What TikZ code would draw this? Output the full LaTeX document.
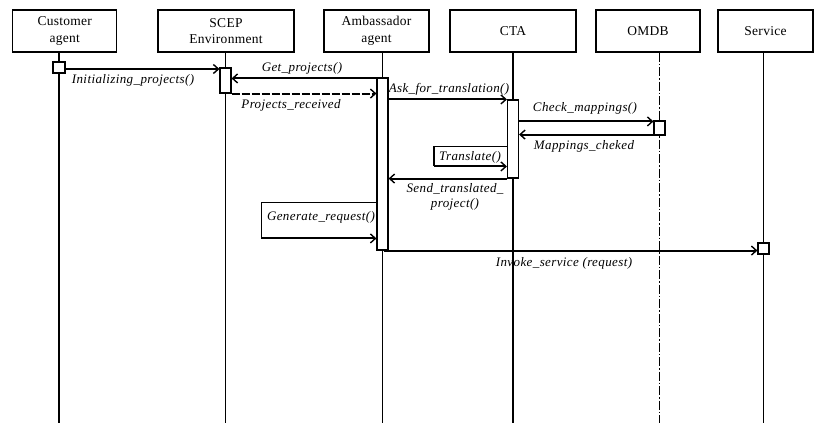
\documentclass[tikz,border=0pt]{standalone}
\usepackage{fontspec}
\setmainfont{Liberation Serif}
\newfontfamily\hdrfont[LetterSpace=2]{Liberation Serif}
\newfontfamily\lblfont[LetterSpace=3]{Liberation Serif}
\usetikzlibrary{arrows.meta,calc}
\begin{document}
\begin{tikzpicture}[x=1pt,y=-1pt,
 hdr/.style={draw,line width=1.1pt,inner sep=0pt,font=\hdrfont\fontsize{13.5}{16.5}\selectfont,align=center},
 life/.style={line width=1.8pt},
 omdbline/.style={line width=0.9pt,dash pattern=on 9pt off 2pt on 1.5pt off 2pt},
 act/.style={draw,fill=white,line width=1.1pt,inner sep=0pt},
 msg/.style={line width=2pt,-{Straight Barb[length=5pt,width=9pt,line width=1.4pt]}},
 ret/.style={msg,dash pattern=on 8pt off 2pt},
 frame/.style={line width=1.1pt},
 lbl/.style={font=\lblfont\itshape\fontsize{13}{15}\selectfont,inner sep=0pt,align=center},
]
\useasboundingbox (0,0) rectangle (814,423);
% headers
\node[hdr,minimum width=104pt,minimum height=42pt] (cust) at (64.7,31) {Customer\\agent};
\node[hdr,minimum width=136pt,minimum height=42pt] (scep) at (226,31) {SCEP\\Environment};
\node[hdr,minimum width=105pt,minimum height=42pt] (amb) at (376.5,31) {Ambassador\\agent};
\node[hdr,minimum width=126pt,minimum height=42pt] (cta) at (513,31) {CTA};
\node[hdr,minimum width=104pt,minimum height=42pt] (omdb) at (648,31) {OMDB};
\node[hdr,minimum width=95pt,minimum height=42pt] (serv) at (765.5,31) {Service};
% lifeline ends
\coordinate (custend) at (59,423);
\coordinate (scepend) at (225.5,423);
\coordinate (ambend) at (382.5,423);
\coordinate (ctaend) at (513,423);
\coordinate (omdbend) at (659.5,423);
\coordinate (servend) at (763.5,423);
\draw[life] (cust.south -| custend) -- (custend);
\draw[life] (scep.south -| scepend) -- (scepend);
\draw[life] (amb.south -| ambend) -- (ambend);
\draw[life] (cta.south -| ctaend) -- (ctaend);
\draw[omdbline] (omdb.south -| omdbend) -- (omdbend);
\draw[life] (serv.south -| servend) -- (servend);
% activations
\node[act,minimum width=12pt,minimum height=11pt] (custsq) at (59,67.5) {};
\node[act,minimum width=11pt,minimum height=25pt] (scepact) at (225.5,80.5) {};
\node[act,minimum width=11pt,minimum height=172pt] (ambact) at (382.5,164) {};
\node[act,minimum width=11pt,minimum height=78pt] (ctaact) at (513,139) {};
\node[act,minimum width=11pt,minimum height=14pt] (omdbsq) at (659.5,128) {};
\node[act,minimum width=11pt,minimum height=11pt] (servsq) at (763.5,248.5) {};
% message anchors
\path (custsq.east) ++(0,1.5) coordinate (m1);
\path (ambact.north east) ++(0,1) coordinate (m2);
\path (scepact.south east) coordinate (m3);
\path (ambact.north east) ++(0,22) coordinate (m4);
\path (ctaact.north east) ++(0,22) coordinate (m5);
\path (omdbsq.south west) ++(0,-1) coordinate (m6);
\path (ctaact.north west) ++(0,47) coordinate (tr1);
\path (ctaact.north west) ++(0,67) coordinate (tr2);
\path (ctaact.south west) coordinate (m8);
\path (ambact.north west) ++(0,125) coordinate (gr1);
\path (ambact.north west) ++(0,161) coordinate (gr2);
\path (ambact.south) ++(1.5,0) coordinate (m10);
% messages
\draw[msg] (m1) -- (m1 -| scepact.west);
\node[lbl] (l1) at (133,80) {Initializing\_projects()};
\draw[msg] (m2) -- (m2 -| scepact.east);
\node[lbl] (l2) at (302,68) {Get\_projects()};
\draw[ret] (m3) -- (m3 -| ambact.west);
\node[lbl] (l3) at (291,105) {Projects\_received};
\draw[msg] (m4) -- (m4 -| ctaact.west);
\node[lbl] (l4) at (449,89) {Ask\_for\_translation()};
\draw[msg] (m5) -- (m5 -| omdbsq.west);
\node[lbl] (l5) at (585,108) {Check\_mappings()};
\draw[msg] (m6) -- (m6 -| ctaact.east);
\node[lbl] (l6) at (584,146) {Mappings\_cheked};
\draw[frame] (tr1) -- ++(-73,0) coordinate (tr3) -- (tr3 |- tr2);
\draw[msg] (tr3 |- tr2) -- (tr2);
\node[lbl] (l7) at (470,157) {Translate()};
\draw[msg] (m8) -- (m8 -| ambact.east);
\node[lbl] (l8) at (455,197) {Send\_translated\_\\project()};
\draw[frame] (gr1) -- ++(-115,0) coordinate (gr3) -- (gr3 |- gr2);
\draw[msg] (gr3 |- gr2) -- (gr2);
\node[lbl] (l9) at (321,217) {Generate\_request()};
\draw[msg] (m10) -- (m10 -| servsq.west);
\node[lbl] (l10) at (564,263) {Invoke\_service (request)};
\end{tikzpicture}
\end{document}
